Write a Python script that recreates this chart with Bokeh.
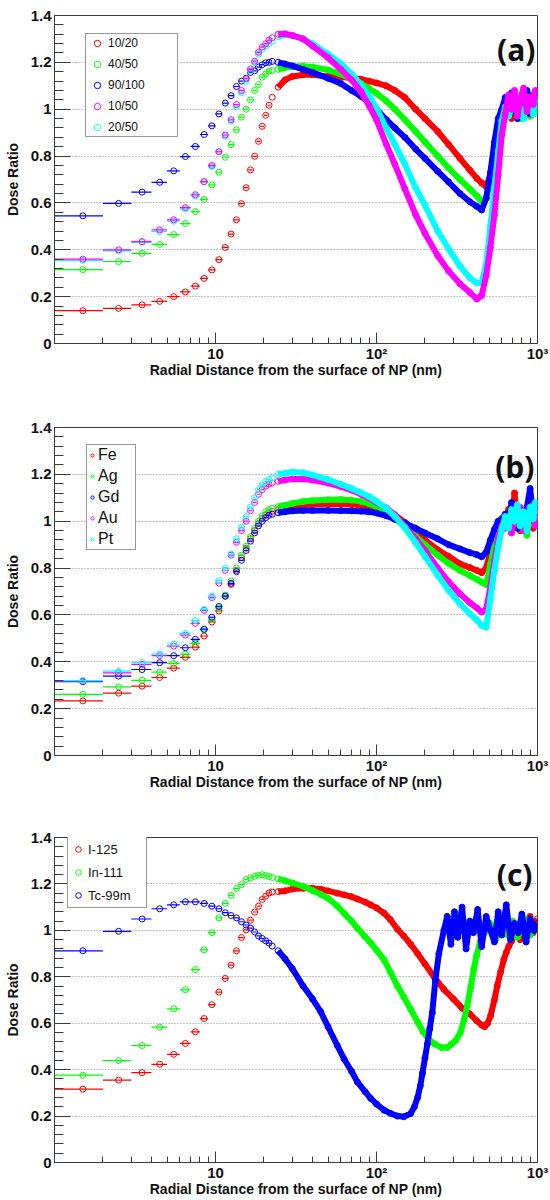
from bokeh.plotting import figure
from bokeh.layouts import column
from bokeh.models import FixedTicker, Legend, LegendItem, Label
from bokeh.embed import file_html
from bokeh.resources import INLINE

# ---------------- data ----------------
BIN_X = [1.5, 2.5, 3.5, 4.5, 5.5, 6.5, 7.5, 8.5, 9.5, 10.5, 11.5, 12.5, 13.5, 14.5,
         15.5, 16.5, 17.5, 18.5, 19.5, 20.5, 21.5]
BIN_HALF = 0.5

TAIL_X_AB = [22.5, 24.5, 27, 30, 35, 40, 50, 60, 70, 80, 90, 100, 115, 130, 150, 175,
             200, 240, 280, 330, 380, 420, 450, 480, 510, 540, 570, 600]
NOISE_X_AB = [630, 660, 690, 720, 750, 780, 820, 860, 900, 940, 970, 1000]

# panel (a)
A_LABELS = ["10/20", "40/50", "90/100", "10/50", "20/50"]
A_BIN_1020 = [0.14, 0.15, 0.165, 0.18, 0.20, 0.22, 0.245, 0.278, 0.314, 0.358, 0.41, 0.467,
              0.528, 0.597, 0.665, 0.741, 0.799, 0.863, 0.927, 0.974, 1.017]
A_TAIL_1020 = [1.051, 1.094, 1.125, 1.14, 1.147, 1.147, 1.14, 1.137, 1.133, 1.128, 1.12, 1.112,
               1.1, 1.08, 1.05, 1.0, 0.96, 0.905, 0.85, 0.79, 0.74, 0.705, 0.685, 0.67, 0.72,
               0.83, 0.93, 0.99]
A_NOISE_1020 = [1.0, 1.04, 0.96, 1.03, 0.98, 1.05, 0.97, 1.02, 1.06, 0.98, 1.03, 1.0]

A_BIN_4050 = [0.315, 0.35, 0.385, 0.423, 0.465, 0.512, 0.563, 0.615, 0.677, 0.731, 0.795, 0.849,
              0.912, 0.966, 1.0, 1.04, 1.08, 1.105, 1.137, 1.15, 1.163]
A_TAIL_4050 = [1.165, 1.17, 1.178, 1.182, 1.183, 1.18, 1.168, 1.15, 1.13, 1.11, 1.088, 1.068,
               1.035, 1.0, 0.955, 0.905, 0.86, 0.80, 0.75, 0.70, 0.66, 0.63, 0.608, 0.62, 0.70,
               0.81, 0.89, 0.97]
A_NOISE_4050 = [1.02, 0.97, 1.05, 0.99, 1.04, 0.96, 1.03, 1.0, 0.97, 1.05, 0.99, 1.02]

A_BIN_90100 = [0.545, 0.598, 0.646, 0.688, 0.737, 0.798, 0.841, 0.892, 0.929, 0.98, 1.026, 1.058,
               1.097, 1.12, 1.132, 1.157, 1.164, 1.18, 1.19, 1.198, 1.2]
A_TAIL_90100 = [1.204, 1.2, 1.193, 1.185, 1.17, 1.157, 1.132, 1.11, 1.08, 1.055, 1.03, 1.0,
                0.955, 0.92, 0.88, 0.83, 0.79, 0.735, 0.69, 0.64, 0.605, 0.585, 0.57, 0.62,
                0.73, 0.86, 0.96, 1.0]
A_NOISE_90100 = [1.05, 0.99, 1.07, 1.01, 0.96, 1.06, 1.02, 1.08, 0.98, 1.04, 1.07, 1.01]

A_BIN_1050 = [0.36, 0.40, 0.435, 0.485, 0.528, 0.58, 0.635, 0.691, 0.76, 0.818, 0.89, 0.955,
              1.02, 1.08, 1.13, 1.172, 1.205, 1.243, 1.265, 1.28, 1.295]
A_TAIL_1050 = [1.305, 1.32, 1.322, 1.315, 1.30, 1.27, 1.22, 1.17, 1.125, 1.076, 1.015, 0.955,
               0.85, 0.765, 0.66, 0.55, 0.47, 0.375, 0.31, 0.255, 0.218, 0.19, 0.205, 0.29,
               0.41, 0.55, 0.72, 0.89]
A_NOISE_1050 = [0.98, 1.06, 1.0, 1.08, 0.97, 1.04, 1.09, 0.99, 1.05, 1.02, 1.08, 1.04]

A_BIN_2050 = [0.355, 0.395, 0.432, 0.478, 0.522, 0.575, 0.63, 0.69, 0.755, 0.82, 0.885, 0.95,
              1.01, 1.07, 1.12, 1.165, 1.2, 1.235, 1.255, 1.27, 1.28]
A_TAIL_2050 = [1.29, 1.31, 1.318, 1.315, 1.30, 1.28, 1.235, 1.195, 1.15, 1.105, 1.055, 1.005,
               0.92, 0.85, 0.765, 0.665, 0.59, 0.48, 0.405, 0.33, 0.28, 0.258, 0.26, 0.34,
               0.50, 0.66, 0.82, 0.95]
A_NOISE_2050 = [1.01, 0.97, 1.04, 1.0, 1.06, 0.99, 0.96, 1.05, 1.01, 0.98, 1.04, 1.06]

# panel (b)
B_LABELS = ["Fe", "Ag", "Gd", "Au", "Pt"]
B_BIN_FE = [0.233, 0.266, 0.296, 0.333, 0.373, 0.419, 0.463, 0.51, 0.57, 0.617, 0.68, 0.73,
            0.79, 0.845, 0.885, 0.925, 0.96, 0.99, 1.012, 1.027, 1.037]
B_TAIL_FE = [1.042, 1.05, 1.057, 1.064, 1.068, 1.072, 1.074, 1.073, 1.071, 1.068, 1.063, 1.057,
             1.045, 1.027, 0.995, 0.955, 0.92, 0.878, 0.85, 0.818, 0.802, 0.79, 0.78, 0.80,
             0.87, 0.94, 0.985, 1.0]
B_NOISE_FE = [1.0, 1.05, 0.97, 1.12, 1.0, 0.96, 1.04, 1.0, 1.03, 0.97, 1.05, 1.02]

B_BIN_AG = [0.261, 0.293, 0.321, 0.356, 0.393, 0.433, 0.479, 0.536, 0.579, 0.63, 0.685, 0.745,
            0.80, 0.855, 0.893, 0.935, 0.97, 1.0, 1.022, 1.04, 1.05]
B_TAIL_AG = [1.055, 1.062, 1.068, 1.076, 1.084, 1.088, 1.092, 1.093, 1.09, 1.085, 1.075, 1.062,
             1.04, 1.014, 0.975, 0.935, 0.9, 0.855, 0.82, 0.79, 0.768, 0.752, 0.74, 0.73,
             0.815, 0.895, 0.955, 0.995]
B_NOISE_AG = [0.98, 1.03, 0.95, 1.01, 1.06, 0.97, 1.02, 0.94, 1.05, 0.99, 1.03, 1.0]

B_BIN_GD = [0.315, 0.339, 0.367, 0.396, 0.426, 0.46, 0.496, 0.539, 0.59, 0.636, 0.68, 0.735,
            0.785, 0.833, 0.875, 0.915, 0.95, 0.98, 1.0, 1.015, 1.025]
B_TAIL_GD = [1.03, 1.036, 1.04, 1.044, 1.046, 1.046, 1.046, 1.045, 1.044, 1.043, 1.04, 1.035,
             1.023, 1.008, 0.992, 0.97, 0.95, 0.925, 0.9, 0.882, 0.866, 0.857, 0.848, 0.868,
             0.92, 0.965, 1.0, 1.01]
B_NOISE_GD = [1.03, 0.99, 1.08, 1.02, 0.97, 1.05, 1.01, 1.06, 1.14, 1.02, 1.06, 1.04]

B_BIN_AU = [0.318, 0.353, 0.389, 0.426, 0.467, 0.514, 0.564, 0.619, 0.674, 0.736, 0.79, 0.855,
            0.91, 0.96, 1.0, 1.045, 1.08, 1.115, 1.135, 1.15, 1.158]
B_TAIL_AU = [1.163, 1.17, 1.176, 1.18, 1.18, 1.176, 1.163, 1.148, 1.133, 1.115, 1.098, 1.08,
             1.057, 1.027, 0.978, 0.925, 0.875, 0.8, 0.742, 0.69, 0.652, 0.63, 0.612, 0.625,
             0.72, 0.83, 0.93, 0.98]
B_NOISE_AU = [0.97, 1.02, 0.95, 1.04, 0.99, 1.06, 0.96, 1.03, 1.0, 1.07, 0.98, 1.04]

B_BIN_PT = [0.32, 0.36, 0.396, 0.433, 0.476, 0.521, 0.576, 0.624, 0.68, 0.746, 0.80, 0.86,
            0.925, 0.975, 1.02, 1.06, 1.1, 1.135, 1.155, 1.17, 1.178]
B_TAIL_PT = [1.185, 1.2, 1.205, 1.21, 1.207, 1.198, 1.178, 1.158, 1.14, 1.122, 1.105, 1.085,
             1.055, 1.02, 0.972, 0.908, 0.85, 0.77, 0.705, 0.648, 0.605, 0.578, 0.555, 0.548,
             0.67, 0.79, 0.89, 0.965]
B_NOISE_PT = [1.02, 0.97, 1.05, 1.0, 1.07, 0.98, 1.04, 0.96, 1.06, 1.01, 1.08, 1.03]

# panel (c)
C_LABELS = ["I-125", "In-111", "Tc-99m"]
C_BIN_I125 = [0.316, 0.355, 0.387, 0.423, 0.466, 0.513, 0.563, 0.62, 0.68, 0.734, 0.793, 0.85,
              0.912, 0.969, 1.002, 1.044, 1.079, 1.104, 1.133, 1.147, 1.161]
C_TAIL_X_I125 = [22.5, 24.5, 27, 30, 35, 40, 45, 50, 57, 63, 70, 76, 85, 92, 100, 111, 122, 135,
                 148, 163, 180, 200, 230, 262, 300, 340, 380, 420, 450, 470, 490, 511, 540, 562,
                 590, 618, 640, 664, 690, 713, 740, 780, 820, 860, 900, 940, 970, 1000]
C_TAIL_Y_I125 = [1.165, 1.167, 1.17, 1.178, 1.181, 1.181, 1.177, 1.17, 1.16, 1.153, 1.145, 1.135,
                 1.122, 1.11, 1.097, 1.075, 1.046, 1.005, 0.975, 0.94, 0.9, 0.855, 0.795, 0.746,
                 0.705, 0.665, 0.64, 0.61, 0.592, 0.585, 0.6, 0.632, 0.7, 0.761, 0.82, 0.875,
                 0.905, 0.932, 0.955, 0.975, 1.0, 0.96, 1.04, 0.98, 1.06, 0.99, 1.03, 1.05]

C_BIN_IN111 = [0.376, 0.439, 0.504, 0.583, 0.662, 0.744, 0.831, 0.916, 0.99, 1.054, 1.116, 1.151,
               1.18, 1.197, 1.219, 1.226, 1.233, 1.237, 1.24, 1.236, 1.232]
C_TAIL_X_IN111 = [22.5, 24.5, 27, 30, 35, 40, 45, 50, 57, 63, 70, 76, 85, 92, 100, 111, 122, 135,
                  148, 163, 180, 195, 210, 230, 254, 275, 292, 310, 332, 350, 366, 385, 402, 418,
                  440, 470, 510, 550, 600, 650, 700, 750, 800, 850, 900, 950, 1000]
C_TAIL_Y_IN111 = [1.228, 1.222, 1.214, 1.204, 1.19, 1.172, 1.155, 1.138, 1.105, 1.073, 1.04, 1.01,
                  0.972, 0.946, 0.915, 0.875, 0.82, 0.76, 0.712, 0.66, 0.605, 0.562, 0.532, 0.51,
                  0.495, 0.495, 0.51, 0.525, 0.56, 0.615, 0.675, 0.755, 0.832, 0.89, 0.95, 0.99,
                  1.03, 0.96, 1.02, 0.98, 1.04, 0.97, 1.01, 1.05, 0.98, 1.02, 1.0]

C_BIN_TC99M = [0.912, 0.996, 1.049, 1.093, 1.11, 1.123, 1.123, 1.116, 1.104, 1.093, 1.076, 1.064,
               1.054, 1.037, 1.023, 1.01, 0.993, 0.976, 0.965, 0.955, 0.945]
C_TAIL_X_TC99M = [22.5, 24.5, 27, 30, 35, 40, 45, 50, 57, 63, 70, 76, 85, 92, 100, 111, 122, 135,
                  148, 163, 172, 180, 187, 193, 200, 207, 214, 222, 232, 244, 262, 275, 290, 305,
                  320, 340, 360, 380, 400, 425, 450, 480, 510, 540, 570, 600, 640, 680, 720, 760,
                  800, 850, 900, 950, 1000]
C_TAIL_Y_TC99M = [0.932, 0.912, 0.878, 0.835, 0.76, 0.705, 0.65, 0.585, 0.505, 0.445, 0.393, 0.347,
                  0.305, 0.276, 0.252, 0.226, 0.212, 0.2, 0.197, 0.211, 0.24, 0.28, 0.33, 0.385,
                  0.45, 0.51, 0.575, 0.645, 0.785, 0.9, 1.0, 1.06, 0.94, 1.08, 0.97, 1.1, 0.92,
                  1.04, 0.99, 1.09, 0.93, 1.06, 1.0, 0.95, 1.08, 0.98, 1.11, 0.96, 1.03, 0.99,
                  1.07, 0.95, 1.05, 1.0, 1.03]

Y_TICKS = [0, 0.2, 0.4, 0.6, 0.8, 1.0, 1.2, 1.4]
Y_TICK_LABELS = ["0", "0.2", "0.4", "0.6", "0.8", "1", "1.2", "1.4"]
X_TICKS = [10, 100, 1000]
X_TICK_LABELS = ["10", "10\u00b2", "10\u00b3"]

# ---------------- style ----------------
RED, GREEN, BLUE, MAGENTA, CYAN = "#ff0000", "#00ff00", "#0000ff", "#ff00ff", "#00ffff"
FRAME = "#3a3a3a"
FONT = "Liberation Sans"
X_TITLE = "Radial Distance from the surface of NP (nm)"
Y_TITLE = "Dose Ratio"
W = 550
BAND_FROM = 24   # x from which the dense markers merge into a solid band


def make_fig(height, top, bottom):
    p = figure(width=W, height=height, x_axis_type="log", x_range=(1, 1000), y_range=(0, 1.4),
               output_backend="svg", toolbar_location=None,
               min_border_left=54, min_border_right=13, min_border_top=top,
               min_border_bottom=bottom)
    p.background_fill_color = "white"
    p.border_fill_color = "white"
    p.outline_line_color = FRAME
    p.outline_line_width = 1
    p.xgrid.visible = False
    p.ygrid.grid_line_color = "#8a8a8a"
    p.ygrid.grid_line_dash = "1 2"
    p.ygrid.grid_line_width = 1

    minor_x = [m * d for d in (1, 10, 100) for m in range(2, 10)]
    p.xaxis.ticker = FixedTicker(ticks=X_TICKS, minor_ticks=minor_x)
    p.xaxis.major_label_overrides = dict(zip(X_TICKS, X_TICK_LABELS))
    minor_y = [round(i * 0.04, 2) for i in range(0, 36)]
    p.yaxis.ticker = FixedTicker(ticks=Y_TICKS, minor_ticks=minor_y)
    p.yaxis.major_label_overrides = dict(zip(Y_TICKS, Y_TICK_LABELS))

    for ax in (p.xaxis[0], p.yaxis[0]):
        ax.major_tick_out = 0
        ax.minor_tick_out = 0
        ax.axis_line_color = FRAME
        ax.major_tick_line_color = FRAME
        ax.minor_tick_line_color = FRAME
        ax.major_label_text_font = FONT
        ax.major_label_text_font_style = "bold"
        ax.major_label_text_font_size = "15px"
        ax.major_label_text_color = "#111111"
        ax.axis_label_text_font = FONT
        ax.axis_label_text_font_style = "bold"
        ax.axis_label_text_font_size = "14px"
        ax.axis_label_text_color = "#111111"
    p.xaxis.major_tick_in = 11
    p.xaxis.minor_tick_in = 6
    p.yaxis.major_tick_in = 16
    p.yaxis.minor_tick_in = 9
    p.xaxis.major_label_standoff = 1
    p.xaxis.axis_label_standoff = -3
    p.yaxis.major_label_standoff = 3
    p.yaxis.axis_label_standoff = 7
    p.xaxis.axis_label = X_TITLE
    p.yaxis.axis_label = Y_TITLE
    return p


def draw_series(p, bins, tail_x, tail_y, color):
    p.segment(x0=[x - BIN_HALF for x in BIN_X], x1=[x + BIN_HALF for x in BIN_X],
              y0=bins, y1=bins, line_color=color, line_width=1.2)
    band = [(x, y) for x, y in zip(tail_x, tail_y) if x >= BAND_FROM]
    p.line(x=[b[0] for b in band], y=[b[1] for b in band], line_color=color,
           line_width=6, line_join="round")
    r = p.scatter(x=BIN_X + tail_x, y=bins + tail_y, marker="circle", size=6,
                  fill_color=None, line_color=color, line_width=1)
    return r


def add_legend(p, renderers, labels, loc, pad, spacing, gw, gh, lw, standoff, fsize):
    items = [LegendItem(label=l, renderers=[r]) for l, r in zip(labels, renderers)]
    lg = Legend(items=items, location=loc, orientation="vertical", padding=pad,
                spacing=spacing, margin=0, glyph_width=gw, glyph_height=gh,
                label_height=gh, label_width=lw, label_standoff=standoff,
                border_line_color="#333333", border_line_width=1,
                background_fill_color="white", background_fill_alpha=1.0,
                label_text_font=FONT, label_text_font_size=fsize,
                label_text_color="#111111")
    p.add_layout(lg)


def add_letter(p, text, x, y):
    p.add_layout(Label(x=x, y=y, x_units="screen", y_units="screen", text=text,
                       text_align="right", text_baseline="alphabetic",
                       text_font="Open Sans", text_font_style="bold",
                       text_font_size="30px", text_color="#111111"))


FH = 328

# panel (a)
pa = make_fig(419, 15, 76)
ra = {}
tx_a = TAIL_X_AB + NOISE_X_AB
ra["10/20"] = draw_series(pa, A_BIN_1020, tx_a, A_TAIL_1020 + A_NOISE_1020, RED)
ra["40/50"] = draw_series(pa, A_BIN_4050, tx_a, A_TAIL_4050 + A_NOISE_4050, GREEN)
ra["90/100"] = draw_series(pa, A_BIN_90100, tx_a, A_TAIL_90100 + A_NOISE_90100, BLUE)
ra["20/50"] = draw_series(pa, A_BIN_2050, tx_a, A_TAIL_2050 + A_NOISE_2050, CYAN)
ra["10/50"] = draw_series(pa, A_BIN_1050, tx_a, A_TAIL_1050 + A_NOISE_1050, MAGENTA)
add_legend(pa, [ra[k] for k in A_LABELS], A_LABELS, (31, FH - 122), 1, 5, 20, 16, 68, 1, "12px")
add_letter(pa, "(a)", 481, FH - 34)

# panel (b)
pb = make_fig(411, 8, 75)
rb = []
rb.append(draw_series(pb, B_BIN_FE, tx_a, B_TAIL_FE + B_NOISE_FE, RED))
rb.append(draw_series(pb, B_BIN_AG, tx_a, B_TAIL_AG + B_NOISE_AG, GREEN))
rb.append(draw_series(pb, B_BIN_GD, tx_a, B_TAIL_GD + B_NOISE_GD, BLUE))
rb.append(draw_series(pb, B_BIN_AU, tx_a, B_TAIL_AU + B_NOISE_AU, MAGENTA))
rb.append(draw_series(pb, B_BIN_PT, tx_a, B_TAIL_PT + B_NOISE_PT, CYAN))
add_legend(pb, rb, B_LABELS, (32, FH - 123), 1, 3, 8, 18, 36, 2, "16px")
add_letter(pb, "(b)", 480, FH - 39)

# panel (c)
pc = make_fig(369, 7, 33)
rc = []
rc.append(draw_series(pc, C_BIN_I125, C_TAIL_X_I125, C_TAIL_Y_I125, RED))
rc.append(draw_series(pc, C_BIN_IN111, C_TAIL_X_IN111, C_TAIL_Y_IN111, GREEN))
rc.append(draw_series(pc, C_BIN_TC99M, C_TAIL_X_TC99M, C_TAIL_Y_TC99M, BLUE))
add_legend(pc, rc, C_LABELS, (13, FH - 74), 3, 5, 14, 18, 55, 3, "13px")
add_letter(pc, "(c)", 478, FH - 40)

layout = column(pa, pb, pc, spacing=0)
open("out.html", "w").write(file_html(layout, INLINE))
